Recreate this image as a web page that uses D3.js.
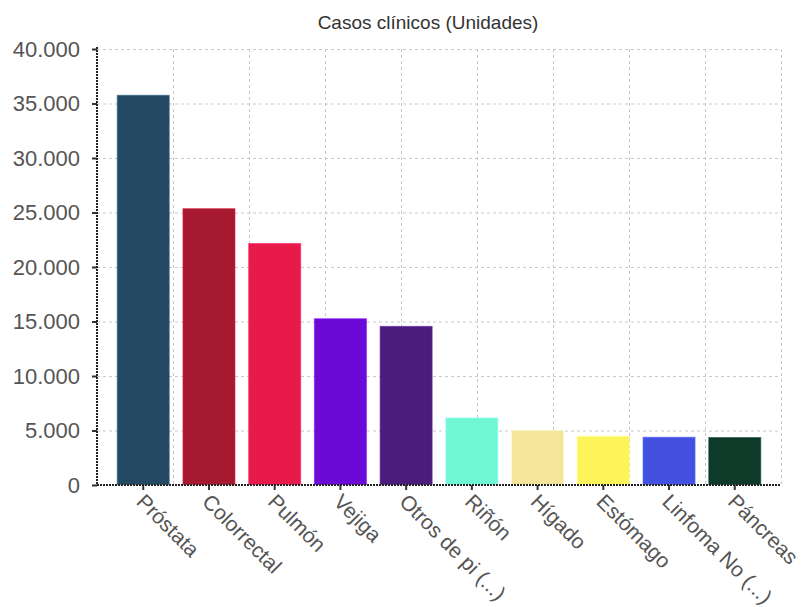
<!DOCTYPE html>
<html>
<head>
<meta charset="utf-8">
<script src="https://cdn.jsdelivr.net/npm/d3@7"></script>
<style>
  body { margin: 0; background: #fff; }
  svg { display: block; font-family: "Liberation Sans", Arial, sans-serif; }
</style>
</head>
<body>
<svg id="chart" width="803" height="607"></svg>
<script>
// Casos clínicos por tipo de cáncer
const title = "Casos clínicos (Unidades)";
const categories = ["Próstata", "Colorrectal", "Pulmón", "Vejiga", "Otros de pi (...)",
                    "Riñón", "Hígado", "Estómago", "Linfoma No (...)", "Páncreas"];
const values = [35800, 25400, 22200, 15300, 14600, 6200, 5050, 4500, 4430, 4400];
const colors = ["#244a63", "#a6192e", "#e8194b", "#6b0ad6", "#4b1c7c",
                "#6ff7d3", "#f5e59a", "#fdf45c", "#4350e0", "#0e3a2a"];
const yTicks = [0, 5000, 10000, 15000, 20000, 25000, 30000, 35000, 40000];

const svg = d3.select("#chart");
const margin = { left: 97, right: 22, top: 49, bottom: 122 };
const W = 803, H = 607;
const x0 = margin.left, x1 = W - margin.right;
const y0 = H - margin.bottom, y1 = margin.top;

const fmt = d3.formatLocale({ decimal: ",", thousands: ".", grouping: [3], currency: ["", "€"] }).format(",.0f");

const x = d3.scaleBand().domain(categories).range([x0, x1]).paddingInner(0.193).paddingOuter(0.3);
const y = d3.scaleLinear().domain([0, 40000]).range([y0, y1]);
const gx = d3.scaleLinear().domain([0, 9]).range([x0, x1]);

// grid
const grid = svg.append("g").attr("stroke", "#c8c8c8").attr("stroke-dasharray", "3,3").attr("stroke-width", 1);
grid.selectAll(".h").data(yTicks.slice(1)).join("line")
  .attr("x1", x0).attr("x2", x1).attr("y1", d => y(d) + 0.5).attr("y2", d => y(d) + 0.5);
grid.selectAll(".v").data(d3.range(1, 10)).join("line")
  .attr("x1", d => gx(d) + 0.5).attr("x2", d => gx(d) + 0.5).attr("y1", y1).attr("y2", y0);

// bars
svg.append("g").selectAll("rect").data(values).join("rect")
  .attr("x", (d, i) => x(categories[i]) + 0.5)
  .attr("y", d => y(d) + 0.5)
  .attr("width", x.bandwidth() - 1)
  .attr("height", d => y(0) - y(d) - 1)
  .attr("fill", (d, i) => colors[i])
  .attr("stroke", (d, i) => d3.color(colors[i]).brighter(0.8))
  .attr("stroke-opacity", 0.6)
  .attr("stroke-width", 1);

// y axis
const yAxis = svg.append("g").attr("transform", `translate(${x0},0)`)
  .call(d3.axisLeft(y).tickValues(yTicks).tickFormat(fmt).tickSize(5).tickPadding(12));
yAxis.select(".domain").remove();
yAxis.selectAll(".tick line").attr("stroke", "#333").attr("stroke-width", 2);
yAxis.selectAll("text").attr("font-size", 22).attr("fill", "#555");

// x axis
const xAxis = svg.append("g").attr("transform", `translate(0,${y0})`)
  .call(d3.axisBottom(x).tickSize(5).tickSizeOuter(0));
xAxis.select(".domain").remove();
xAxis.selectAll(".tick line").attr("stroke", "#333").attr("stroke-width", 2);
xAxis.selectAll("text")
  .attr("font-size", 21).attr("fill", "#555")
  .attr("text-anchor", "start")
  .attr("x", 0).attr("y", 0).attr("dy", 0)
  .attr("transform", "translate(-8,18) rotate(45)");

// axis lines (dotted)
const axisLines = svg.append("g").attr("stroke", "#222").attr("stroke-width", 2).attr("stroke-dasharray", "2,1");
axisLines.append("line").attr("x1", x0).attr("x2", x0).attr("y1", y1 - 2).attr("y2", y0 + 1);
axisLines.append("line").attr("x1", x0).attr("x2", x1).attr("y1", y0).attr("y2", y0);

// title
svg.append("text").attr("x", 428).attr("y", 29).attr("text-anchor", "middle")
  .attr("font-size", 19).attr("fill", "#333").text(title);
</script>
</body>
</html>
